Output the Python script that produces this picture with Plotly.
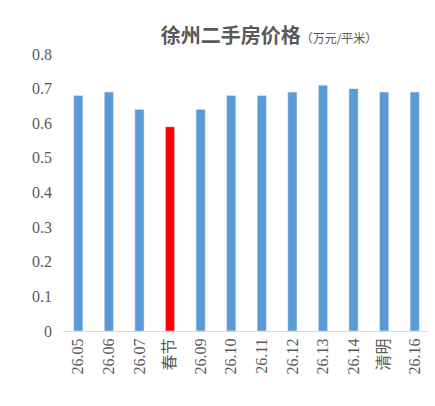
import plotly.graph_objects as go

categories = ["26.05","26.06","26.07","春节","26.09","26.10","26.11","26.12","26.13","26.14","清明","26.16"]
values = [0.68,0.69,0.64,0.59,0.64,0.68,0.68,0.69,0.71,0.70,0.69,0.69]
ytick_vals = [0,0.1,0.2,0.3,0.4,0.5,0.6,0.7,0.8]
ytick_text = ["0","0.1","0.2","0.3","0.4","0.5","0.6","0.7","0.8"]
colors = ["#FF0000" if c == "春节" else "#5B9BD5" for c in categories]

fig = go.Figure(go.Bar(x=categories, y=values, marker_color=colors, width=0.3))
fig.update_layout(
    width=435, height=406, margin=dict(l=55, r=13, t=46, b=83, autoexpand=False),
    plot_bgcolor="white", paper_bgcolor="white", showlegend=False,
    font=dict(family="Liberation Serif, Noto Sans CJK SC", size=16, color="#595959"),
    title=dict(text="<b>徐州二手房价格</b><span style='font-size:12px'>（万元/平米）</span>",
               x=0.6, xanchor="center", y=0.93, yanchor="middle",
               font=dict(family="Noto Sans CJK SC", size=20, color="#595959")),
)
fig.update_yaxes(range=[0, 0.8], tickvals=ytick_vals, ticktext=ytick_text, showgrid=False,
                 showline=False, zeroline=False, ticks="", ticklabelstandoff=10, automargin=False)
fig.update_xaxes(tickangle=-90, showline=True, linecolor="#D9D9D9", ticks="", automargin=False)
fig.write_html("out.html")
